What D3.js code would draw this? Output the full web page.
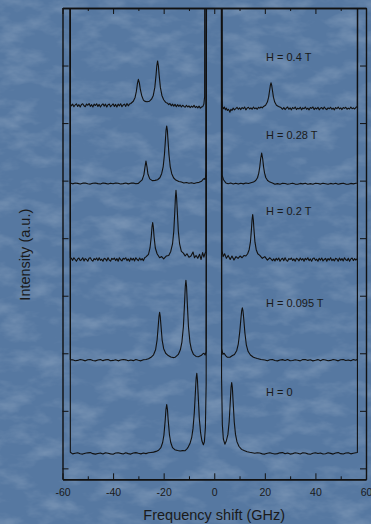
<!DOCTYPE html>
<html>
<head>
<meta charset="utf-8">
<script src="https://cdn.jsdelivr.net/npm/d3@7"></script>
<style>
html, body { margin: 0; padding: 0; background: #5779a2; }
svg { display: block; }
text { font-family: "Liberation Sans", Arial, sans-serif; }
</style>
</head>
<body>
<svg id="chart" width="371" height="524"></svg>
<script>
// field labels, bottom trace first
var fields = ["H = 0", "H = 0.095 T", "H = 0.2 T", "H = 0.28 T", "H = 0.4 T"];
// vertical shift of each trace (a.u.)
var offsets = [0.26, 1.88, 3.63, 4.95, 6.31];

var xMajor = [-60, -40, -20, 0, 20, 40, 60];
var xMinor = [-50, -30, -10, 10, 30, 50];
var yTicks = [0, 1, 2, 3, 4, 5, 6, 7, 8];

// [frequency shift GHz, intensity a.u.]
var spec0 = [[-57.0,20],[-56.9,0.02],[-56,-0.008],[-55,0.004],[-54,0.012],[-53,-0.006],[-52,-0.012],[-51,0.002],[-50,0.01],[-49,0.014],[-48,-0.004],[-47,-0.012],[-46,-0.002],[-45,0.008],[-44,-0.01],[-43,0.012],[-42,0.004],[-41,-0.008],[-40,-0.014],[-39,0.006],[-38,0.012],[-37,0.0],[-36,-0.01],[-35,0.01],[-34,-0.004],[-33,-0.012],[-32,0.008],[-31,0.014],[-30,0.002],[-29,-0.008],[-28,0.006],[-27,-0.004],[-26,0.01],[-25,0.016],[-24,0.022],[-23,0.035],
  [-22,0.055],[-21.1,0.1],[-20.4,0.19],[-19.9,0.32],[-19.4,0.57],[-19.1,0.76],[-18.8,0.85],[-18.5,0.76],[-18.2,0.57],[-17.7,0.32],[-17.2,0.19],[-16.5,0.1],[-15.6,0.065],[-14.5,0.05],[-13.5,0.042],[-12.5,0.048],[-11.6,0.045],[-10.8,0.08],[-10.3,0.11],[-9.6,0.17],[-8.9,0.28],[-8.4,0.43],[-7.9,0.7],[-7.4,1.11],[-7.15,1.31],[-6.9,1.39],[-6.65,1.28],[-6.4,1.05],[-5.9,0.6],[-5.4,0.36],[-4.9,0.22],[-4.3,0.15],[-3.9,0.2],[-3.5,0.45],[-3.2,1.2],[-2.8,20],
  [2.6,20],[2.9,1.3],[3.2,0.5],[3.6,0.25],[4.2,0.16],[4.8,0.22],[5.4,0.33],[5.9,0.55],[6.4,0.95],[6.65,1.15],[6.9,1.23],[7.15,1.15],[7.4,0.95],[7.9,0.55],[8.4,0.33],[9.0,0.2],[9.8,0.12],[10.8,0.07],[12,0.045],[13,0.03],[14,0.02],[15,0.012],
  [16,0.004],[17,0.012],[18,0.006],[19,-0.008],[20,-0.012],[21,0.004],[22,0.012],[23,-0.002],[24,-0.01],[25,-0.004],[26,0.01],[27,0.014],[28,-0.006],[29,0.008],[30,-0.012],[31,-0.004],[32,0.01],[33,0.002],[34,-0.01],[35,0.012],[36,0.006],[37,-0.008],[38,-0.014],[39,0.004],[40,0.012],[41,-0.002],[42,0.008],[43,-0.01],[44,-0.006],[45,0.012],[46,0.0],[47,-0.012],[48,0.008],[49,0.014],[50,-0.004],[51,-0.01],[52,0.006],[53,0.012],[54,-0.008],[55,0.002],[56,0.01],[56.6,0.015],[56.8,20]];

var spec095 = [[-57.0,20],[-56.9,0.01],[-56,0.006],[-55,-0.01],[-54,-0.004],[-53,0.012],[-52,0.004],[-51,-0.012],[-50,0.008],[-49,0.012],[-48,-0.006],[-47,-0.012],[-46,0.002],[-45,0.01],[-44,-0.008],[-43,0.006],[-42,0.012],[-41,-0.01],[-40,-0.004],[-39,0.008],[-38,-0.012],[-37,0.002],[-36,0.012],[-35,0.006],[-34,-0.01],[-33,0.004],[-32,-0.008],[-31,0.012],[-30,-0.002],[-29,-0.012],[-28,0.008],[-27,0.012],[-26,0.025],
  [-25,0.05],[-24,0.093],[-23.2,0.18],[-22.6,0.35],[-22.1,0.62],[-21.85,0.76],[-21.6,0.83],[-21.35,0.76],[-21.1,0.62],[-20.6,0.35],[-20.0,0.2],[-19.2,0.12],[-18.2,0.08],[-17.2,0.055],[-16.3,0.045],[-15.5,0.05],[-14.2,0.1],[-13.4,0.18],[-12.8,0.31],[-12.2,0.58],[-11.7,1.03],[-11.45,1.28],[-11.2,1.39],[-10.95,1.28],[-10.7,1.03],[-10.2,0.58],[-9.6,0.31],[-9.0,0.18],[-8.2,0.1],[-7.2,0.065],[-6.3,0.06],[-5.2,0.08],[-4.5,0.11],[-4.05,0.12],[-3.6,0.09],[-3.2,0.15],[-2.8,20],
  [2.7,20],[3.0,0.2],[3.4,0.1],[3.9,0.12],[4.5,0.08],[5.2,0.05],[6.2,0.05],[7.2,0.08],[8.0,0.1],[8.9,0.17],[9.5,0.28],[10.1,0.5],[10.6,0.75],[10.85,0.86],[11.1,0.91],[11.35,0.86],[11.6,0.75],[12.1,0.48],[12.7,0.26],[13.4,0.15],[14.3,0.09],[15.5,0.05],[17,0.03],[18.5,0.012],
  [20,0.002],[21,-0.01],[22,0.008],[23,0.012],[24,-0.006],[25,-0.012],[26,0.004],[27,0.01],[28,-0.004],[29,0.012],[30,-0.01],[31,-0.006],[32,0.008],[33,0.0],[34,-0.012],[35,0.01],[36,0.012],[37,-0.004],[38,0.006],[39,-0.012],[40,-0.002],[41,0.01],[42,-0.008],[43,0.012],[44,0.004],[45,-0.01],[46,-0.004],[47,0.012],[48,0.002],[49,-0.012],[50,0.008],[51,0.012],[52,-0.006],[53,0.004],[54,-0.01],[55,0.01],[56,0.0],[56.6,0.015],[56.8,20]];

var spec02 = [[-57.0,20],[-56.9,0.03],[-56.5,0.02],[-56,-0.015],[-55.5,0.03],[-55,0.0],[-54.5,-0.03],[-54,0.01],[-53.5,0.025],[-53,-0.02],[-52.5,-0.005],[-52,0.03],[-51.5,-0.025],[-51,0.015],[-50.5,0.0],[-50,-0.03],[-49.5,0.02],[-49,0.03],[-48.5,-0.01],[-48,-0.03],[-47.5,0.015],[-47,-0.005],[-46.5,0.025],[-46,-0.02],[-45.5,0.03],[-45,-0.015],[-44.5,0.005],[-44,-0.03],[-43.5,0.02],[-43,0.01],[-42.5,-0.025],[-42,0.03],[-41.5,-0.01],[-41,-0.03],[-40.5,0.02],[-40,0.0],[-39.5,0.025],[-39,-0.02],[-38.5,0.015],[-38,-0.03],[-37.5,0.03],[-37,-0.005],[-36.5,-0.025],[-36,0.02],[-35.5,0.005],[-35,0.03],[-34.5,-0.02],[-34,0.01],[-33.5,-0.03],[-33,0.025],[-32.5,-0.01],[-32,0.02],[-31.5,-0.025],[-31,0.03],[-30.5,0.0],[-30,-0.02],[-29.5,0.025],[-29,-0.01],[-28.5,0.015],[-28,-0.02],[-27.5,0.03],
  [-27,0.045],[-26,0.09],[-25.4,0.2],[-24.9,0.4],[-24.6,0.57],[-24.35,0.64],[-24.1,0.57],[-23.8,0.4],[-23.3,0.2],[-22.6,0.1],[-21.6,0.03],[-20.8,0.05],[-20,0.01],[-19,0.06],[-18,0.07],[-17.2,0.14],[-16.5,0.27],[-16.0,0.49],[-15.6,0.83],[-15.35,1.08],[-15.12,1.2],[-14.9,1.08],[-14.6,0.83],[-14.2,0.49],[-13.7,0.27],[-13.0,0.14],[-12.2,0.11],[-11.5,0.06],[-10.8,0.1],[-10,0.04],[-9.2,0.06],[-8.4,0.13],[-7.8,0.03],[-7.2,0.07],[-6.5,0.02],[-5.8,0.09],[-5.2,0.0],[-4.6,0.12],[-4.1,0.04],[-3.7,0.1],[-3.3,0.14],[-3.0,20],
  [2.8,20],[3.1,0.15],[3.5,0.05],[4.1,0.1],[4.8,0.02],[5.5,0.07],[6.3,0.0],[7.0,0.06],[7.8,-0.01],[8.6,0.05],[9.4,0.02],[10.2,0.06],[11.0,0.03],[11.8,0.07],[12.5,0.06],[13.2,0.1],[13.8,0.17],[14.3,0.3],[14.7,0.52],[14.95,0.69],[15.2,0.78],[15.45,0.69],[15.7,0.52],[16.1,0.3],[16.6,0.17],[17.2,0.1],[18,0.07],[19,0.02],[20,0.05],[21,-0.01],[22,0.03],[23,-0.02],
  [23.5,0.01],[24,-0.025],[24.5,0.02],[25,-0.01],[25.5,0.025],[26,-0.03],[26.5,0.005],[27,0.02],[27.5,-0.02],[28,0.03],[28.5,-0.015],[29,-0.03],[29.5,0.015],[30,0.0],[30.5,0.025],[31,-0.02],[31.5,0.01],[32,-0.03],[32.5,0.02],[33,0.005],[33.5,-0.025],[34,0.025],[34.5,-0.01],[35,0.015],[35.5,-0.03],[36,0.02],[36.5,-0.005],[37,0.03],[37.5,-0.02],[38,0.01],[38.5,-0.03],[39,0.015],[39.5,0.025],[40,-0.015],[40.5,0.005],[41,-0.03],[41.5,0.02],[42,-0.01],[42.5,0.025],[43,-0.025],[43.5,0.0],[44,0.02],[44.5,-0.03],[45,0.015],[45.5,-0.01],[46,0.03],[46.5,-0.02],[47,0.005],[47.5,-0.025],[48,0.02],[48.5,0.01],[49,-0.03],[49.5,0.025],[50,-0.015],[50.5,0.015],[51,-0.025],[51.5,0.03],[52,-0.005],[52.5,-0.02],[53,0.02],[53.5,-0.03],[54,0.01],[54.5,0.025],[55,-0.02],[55.5,0.015],[56,-0.01],[56.6,0.02],[56.8,20]];

var spec028 = [[-57.0,20],[-56.9,0.01],[-56,-0.006],[-55,0.008],[-54,0.002],[-53,-0.01],[-52,0.006],[-51,0.01],[-50,-0.004],[-49,-0.01],[-48,0.004],[-47,0.01],[-46,-0.002],[-45,-0.008],[-44,0.008],[-43,0.002],[-42,-0.01],[-41,0.006],[-40,-0.004],[-39,0.01],[-38,0.004],[-37,-0.008],[-36,-0.002],[-35,0.01],[-34,-0.006],[-33,0.006],[-32,0.01],[-31,-0.004],[-30,0.002],
  [-29.5,0.025],[-28.5,0.062],[-27.8,0.155],[-27.4,0.28],[-27.0,0.39],[-26.6,0.29],[-26.2,0.16],[-25.5,0.08],[-24.5,0.05],[-23.4,0.055],[-22.4,0.065],[-21.5,0.1],[-20.8,0.17],[-20.2,0.29],[-19.7,0.5],[-19.3,0.76],[-19.05,0.93],[-18.8,1.0],[-18.55,0.93],[-18.3,0.76],[-17.9,0.5],[-17.4,0.29],[-16.8,0.17],[-16.1,0.1],[-15.2,0.06],[-14,0.035],[-13,0.025],[-12,0.01],[-11,0.018],[-10,0.004],[-9,0.014],[-8,0.0],[-7,0.012],[-6,0.02],[-5,0.04],[-4.4,0.07],[-4.05,0.087],[-3.6,0.07],[-3.2,0.2],[-3.0,20],
  [2.8,20],[3.1,0.15],[3.6,0.07],[4.1,0.04],[4.6,0.01],[5.5,-0.004],[6.5,0.008],[7.5,-0.008],[8.5,0.006],[9.5,-0.01],[10.5,0.004],[11.5,-0.006],[12.5,0.01],[13.5,0.0],[14.5,0.012],[15.5,0.025],[16.4,0.053],[17.1,0.1],[17.6,0.18],[18.0,0.29],[18.35,0.43],[18.75,0.53],[19.15,0.43],[19.5,0.29],[19.9,0.18],[20.4,0.1],[21.1,0.053],[22,0.025],[23,0.01],[24,-0.014],
  [25,-0.002],[26,-0.014],[27,0.004],[28,0.0],[29,-0.012],[30,-0.004],[31,0.006],[32,-0.01],[33,-0.014],[34,0.002],[35,-0.006],[36,0.006],[37,-0.012],[38,-0.002],[39,-0.014],[40,0.004],[41,0.0],[42,-0.01],[43,0.006],[44,-0.004],[45,-0.014],[46,0.002],[47,-0.008],[48,0.004],[49,-0.012],[50,-0.002],[51,0.006],[52,-0.01],[53,-0.014],[54,0.002],[55,-0.006],[56,0.004],[56.6,0.01],[56.8,20]];

var spec04 = [[-57.0,20],[-56.9,0.02],[-56.5,-0.01],[-56,0.02],[-55.5,-0.025],[-55,0.005],[-54.5,0.025],[-54,-0.02],[-53.5,0.01],[-53,-0.03],[-52.5,0.015],[-52,0.025],[-51.5,-0.01],[-51,-0.025],[-50.5,0.02],[-50,0.0],[-49.5,0.03],[-49,-0.02],[-48.5,0.01],[-48,-0.03],[-47.5,0.02],[-47,-0.005],[-46.5,0.025],[-46,-0.02],[-45.5,0.015],[-45,-0.03],[-44.5,0.005],[-44,0.025],[-43.5,-0.015],[-43,0.02],[-42.5,-0.03],[-42,0.01],[-41.5,0.02],[-41,-0.025],[-40.5,0.0],[-40,0.025],[-39.5,-0.02],[-39,0.015],[-38.5,-0.03],[-38,0.02],[-37.5,-0.01],[-37,0.025],[-36.5,-0.025],[-36,0.005],[-35.5,0.02],[-35,-0.02],[-34.5,0.03],[-34,-0.01],[-33.5,0.02],
  [-33,0.03],[-32,0.07],[-31.3,0.135],[-30.8,0.24],[-30.4,0.37],[-30.0,0.45],[-29.6,0.39],[-29.2,0.27],[-28.7,0.17],[-28.0,0.09],[-27.4,0.067],[-26.6,0.06],[-25.6,0.07],[-24.8,0.105],[-24.1,0.17],[-23.5,0.31],[-23.0,0.53],[-22.7,0.69],[-22.4,0.77],[-22.1,0.69],[-21.8,0.53],[-21.3,0.31],[-20.7,0.17],[-20.0,0.095],[-19.2,0.05],
  [-18.5,0.035],[-18,0.01],[-17.5,0.03],[-17,-0.01],[-16.5,0.02],[-16,-0.015],[-15.5,0.015],[-15,-0.025],[-14.5,0.01],[-14,-0.02],[-13.5,0.005],[-13,-0.03],[-12.5,0.0],[-12,-0.02],[-11.5,-0.035],[-11,0.0],[-10.5,-0.03],[-10,-0.01],[-9.5,-0.04],[-9,-0.015],[-8.5,-0.035],[-8,0.0],[-7.5,-0.04],[-7,-0.02],[-6.5,-0.045],[-6,-0.015],[-5.5,-0.05],[-5,-0.03],[-4.5,-0.02],[-4.1,0.02],[-3.8,0.15],[-3.5,20],
  [2.7,20],[2.9,0.1],[3.2,-0.02],[3.6,-0.06],[4.0,-0.03],[4.4,-0.08],[4.8,-0.05],[5.2,-0.09],[5.6,-0.07],[6.0,-0.1],[6.2,-0.12],[6.6,-0.07],[7.0,-0.09],[7.5,-0.05],[8.0,-0.08],[8.5,-0.06],[9.0,-0.035],[9.5,-0.07],[10,-0.045],[10.5,-0.075],[11,-0.04],[11.5,-0.06],[12,-0.03],[12.5,-0.08],[13,-0.05],[13.5,-0.035],[14,-0.065],[14.5,-0.045],[15,-0.07],[15.5,-0.03],[16,-0.06],[16.5,-0.045],[17,-0.07],[17.5,-0.035],[18,-0.05],[18.5,-0.03],[19,-0.045],[19.5,-0.02],
  [20.3,0.0],[21.0,0.055],[21.5,0.14],[21.9,0.26],[22.2,0.35],[22.44,0.39],[22.7,0.35],[23.0,0.26],[23.4,0.14],[23.9,0.055],[24.6,0.0],[25.4,-0.02],[26.4,-0.04],
  [27,-0.07],[27.5,-0.04],[28,-0.075],[28.5,-0.05],[29,-0.03],[29.5,-0.07],[30,-0.045],[30.5,-0.08],[31,-0.04],[31.5,-0.06],[32,-0.03],[32.5,-0.075],[33,-0.05],[33.5,-0.065],[34,-0.035],[34.5,-0.08],[35,-0.045],[35.5,-0.06],[36,-0.03],[36.5,-0.07],[37,-0.05],[37.5,-0.08],[38,-0.04],[38.5,-0.055],[39,-0.03],[39.5,-0.075],[40,-0.045],[40.5,-0.065],[41,-0.035],[41.5,-0.08],[42,-0.05],[42.5,-0.04],[43,-0.07],[43.5,-0.03],[44,-0.06],[44.5,-0.075],[45,-0.045],[45.5,-0.06],[46,-0.035],[46.5,-0.07],[47,-0.05],[47.5,-0.08],[48,-0.04],[48.5,-0.06],[49,-0.03],[49.5,-0.065],[50,-0.045],[50.5,-0.075],[51,-0.04],[51.5,-0.055],[52,-0.035],[52.5,-0.07],[53,-0.05],[53.5,-0.065],[54,-0.03],[54.5,-0.06],[55,-0.045],[55.5,-0.065],[56,-0.04],[56.6,-0.02],[56.8,20]];

var spectra = [spec0, spec095, spec02, spec028, spec04];

// layout
var w = 371, h = 524;
var plotL = 62.5, plotR = 366, plotT = 8, plotB = 479.3;
var labelLift = [1.06, 0.99, 0.84, 0.84, 0.84];

var svg = d3.select("#chart");

// slide background with a faint cloudy texture
var defs = svg.append("defs");
var tex = defs.append("filter").attr("id", "tex")
    .attr("x", 0).attr("y", 0).attr("width", 1).attr("height", 1);
tex.append("feTurbulence").attr("type", "fractalNoise")
    .attr("baseFrequency", "0.03 0.06").attr("numOctaves", 4).attr("seed", 7);
tex.append("feColorMatrix").attr("type", "matrix")
    .attr("values", "0 0 0 0 1  0 0 0 0 1  0 0 0 0 1  1.4 0 0 0 -0.6");

defs.append("clipPath").attr("id", "plotclip")
  .append("rect")
    .attr("x", plotL).attr("y", plotT)
    .attr("width", plotR - plotL).attr("height", plotB - plotT);

svg.append("rect").attr("width", w).attr("height", h).attr("fill", "#5678a1");
svg.append("rect").attr("width", w).attr("height", h)
    .attr("filter", "url(#tex)").attr("opacity", 0.28);

var x = d3.scaleLinear().domain([-60, 60]).range([plotL, plotR]);
var y = d3.scaleLinear().domain([-0.19, 8]).range([plotB, plotT]);

// traces
var plot = svg.append("g").attr("clip-path", "url(#plotclip)");
spectra.forEach(function(s, i)
{
    var line = d3.line()
        .x(function(d) { return x(d[0]); })
        .y(function(d) { return y(d[1] + offsets[i]); });
    plot.append("path")
        .datum(s)
        .attr("fill", "none")
        .attr("stroke", "#111")
        .attr("stroke-width", 1.1)
        .attr("stroke-linejoin", "round")
        .attr("d", line);
});

// axes, ticks pointing inward
var fmt = function(d) { return String(d); };
var axes = svg.append("g").attr("class", "axes");

axes.append("g").attr("transform", "translate(0," + plotB + ")")
    .call(d3.axisBottom(x).tickValues(xMajor).tickSize(-6).tickSizeOuter(0).tickPadding(9).tickFormat(fmt));
axes.append("g").attr("transform", "translate(0," + plotB + ")")
    .call(d3.axisBottom(x).tickValues(xMinor).tickSize(-3).tickSizeOuter(0).tickFormat(""));
axes.append("g").attr("transform", "translate(0," + plotT + ")")
    .call(d3.axisTop(x).tickValues(xMajor).tickSize(-6).tickSizeOuter(0).tickFormat(""));
axes.append("g").attr("transform", "translate(0," + plotT + ")")
    .call(d3.axisTop(x).tickValues(xMinor).tickSize(-3).tickSizeOuter(0).tickFormat(""));
axes.append("g").attr("transform", "translate(" + plotL + ",0)")
    .call(d3.axisLeft(y).tickValues(yTicks).tickSize(-6).tickSizeOuter(0).tickFormat(""));
axes.append("g").attr("transform", "translate(" + plotR + ",0)")
    .call(d3.axisRight(y).tickValues(yTicks).tickSize(-6).tickSizeOuter(0).tickFormat(""));

axes.selectAll(".domain").attr("stroke", "#111").attr("stroke-width", 1.4);
axes.selectAll(".tick line").attr("stroke", "#111").attr("stroke-width", 1);
axes.selectAll(".tick text")
    .attr("fill", "#1a1a1a")
    .style("font-size", "10.5px")
    .style("font-family", "'Liberation Sans', Arial, sans-serif");

// field labels
svg.append("g").selectAll("text")
    .data(fields)
    .enter()
    .append("text")
    .attr("x", 266)
    .attr("y", function(d, i) { return y(offsets[i] + labelLift[i]); })
    .attr("dy", "0.36em")
    .attr("fill", "#1a1a1a")
    .style("font-size", "11px")
    .text(function(d) { return d; });

// axis titles
svg.append("text")
    .attr("x", (plotL + plotR) / 2)
    .attr("y", 520)
    .attr("text-anchor", "middle")
    .attr("fill", "#1a1a1a")
    .style("font-size", "14.5px")
    .text("Frequency shift (GHz)");

svg.append("text")
    .attr("transform", "translate(30,254.7) rotate(-90)")
    .attr("text-anchor", "middle")
    .attr("fill", "#1a1a1a")
    .style("font-size", "14.5px")
    .text("Intensity (a.u.)");
</script>
</body>
</html>
